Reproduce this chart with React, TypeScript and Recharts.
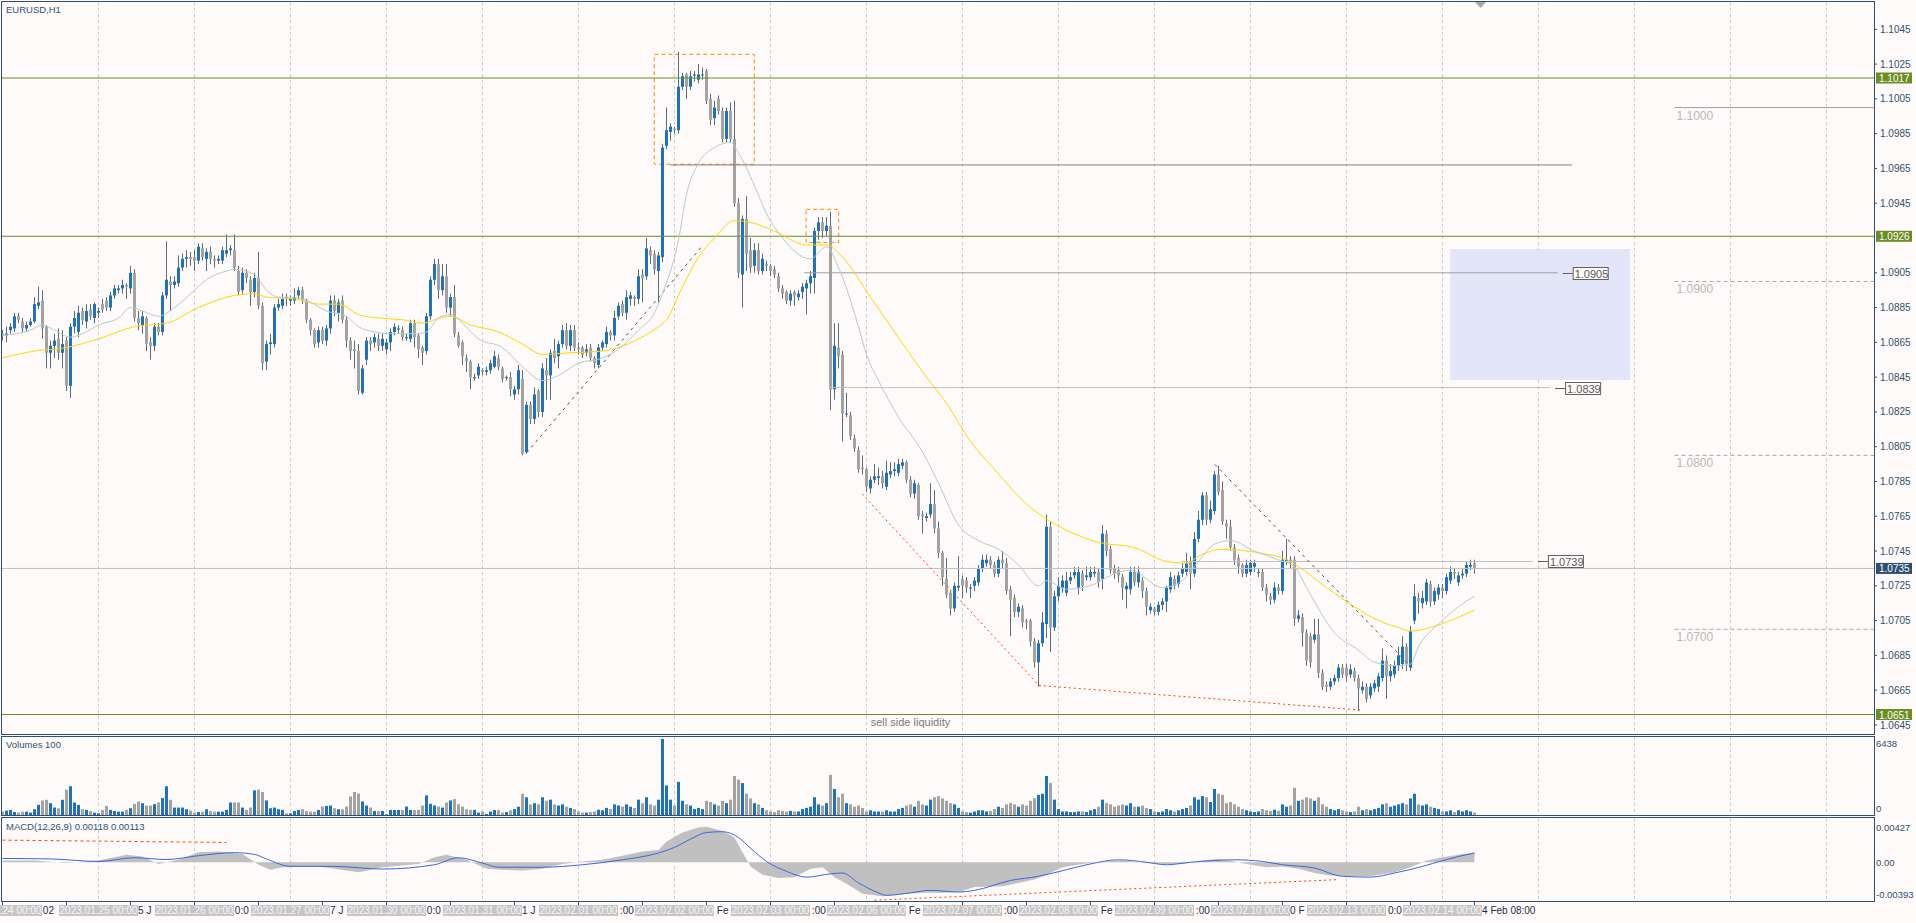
import React from "react"
import { ComposedChart, Bar, Line, Area, XAxis, YAxis, ReferenceLine, ReferenceArea, ReferenceDot, CartesianGrid } from "recharts"

const FONT = "'Liberation Sans', Arial, sans-serif"
const BG = "#fdfaf9"
const BORDER = "#2f4f6f"
const BULL = "#1e71bf"
const BEAR = "#a3a3a3"
const WICK = "#5a6b7c"
const OLIVE = "#6b8e23"

// EURUSD H1 bars, prices in pips (10870 = 1.0870), bar 0 = 2023.01.24 00:00
const openPips = [
    10870, 10869, 10872, 10873, 10880, 10877, 10873, 10875, 10877, 10886, 10889, 10874,
    10859, 10863, 10867, 10859, 10866, 10840, 10874, 10871, 10883, 10877, 10884, 10879,
    10882, 10887, 10889, 10885, 10892, 10895, 10896, 10898, 10896, 10905, 10879, 10875,
    10879, 10865, 10863, 10874, 10871, 10892, 10900, 10898, 10899, 10908, 10913, 10914,
    10914, 10912, 10919, 10913, 10917, 10913, 10912, 10912, 10916, 10918, 10918, 10906,
    10895, 10905, 10901, 10894, 10902, 10886, 10854, 10864, 10864, 10885, 10886, 10891,
    10889, 10889, 10892, 10895, 10889, 10878, 10872, 10865, 10872, 10866, 10873, 10889,
    10882, 10889, 10878, 10866, 10861, 10860, 10836, 10855, 10866, 10865, 10867, 10863,
    10861, 10865, 10871, 10873, 10872, 10868, 10867, 10876, 10869, 10862, 10860, 10880,
    10901, 10910, 10895, 10903, 10885, 10891, 10869, 10865, 10856, 10854, 10845, 10846,
    10849, 10848, 10849, 10851, 10856, 10850, 10845, 10845, 10835, 10838, 10844, 10802,
    10829, 10821, 10837, 10825, 10849, 10846, 10860, 10857, 10864, 10872, 10863, 10872,
    10862, 10862, 10859, 10862, 10856, 10852, 10862, 10864, 10871, 10869, 10880, 10887,
    10882, 10890, 10891, 10890, 10904, 10903, 10918, 10916, 10906, 10914, 10978, 10986,
    10988, 10987, 11012, 11019, 11012, 11019, 11016, 11019, 11021, 11005, 10994, 11005,
    10998, 10982, 10998, 10982, 10945, 10904, 10936, 10918, 10909, 10918, 10906, 10910,
    10909, 10907, 10903, 10896, 10894, 10889, 10894, 10891, 10894, 10896, 10899, 10902,
    10929, 10934, 10929, 10932, 10838, 10862, 10858, 10824, 10823, 10810, 10803, 10793,
    10792, 10781, 10786, 10787, 10788, 10782, 10789, 10791, 10790, 10794, 10796, 10786,
    10778, 10783, 10766, 10764, 10766, 10772, 10758, 10744, 10729, 10721, 10712, 10724,
    10729, 10728, 10724, 10725, 10727, 10735, 10738, 10740, 10737, 10732, 10740, 10738,
    10723, 10718, 10710, 10712, 10705, 10705, 10693, 10681, 10692, 10703, 10759, 10701,
    10719, 10724, 10721, 10728, 10731, 10724, 10732, 10730, 10730, 10732, 10733, 10729,
    10755, 10746, 10735, 10734, 10730, 10723, 10723, 10733, 10727, 10728, 10722, 10711,
    10712, 10710, 10714, 10716, 10723, 10729, 10726, 10732, 10733, 10739, 10732, 10752,
    10763, 10777, 10763, 10768, 10789, 10780, 10761, 10759, 10747, 10741, 10737, 10732,
    10733, 10736, 10733, 10733, 10724, 10719, 10717, 10724, 10722, 10739, 10740, 10740,
    10706, 10707, 10698, 10696, 10694, 10697, 10675, 10668, 10667, 10670, 10672, 10678,
    10678, 10674, 10676, 10672, 10665, 10667, 10662, 10666, 10667, 10672, 10682, 10673,
    10674, 10679, 10680, 10690, 10678, 10705, 10718, 10715, 10716, 10726, 10716, 10720,
    10724, 10722, 10728, 10733, 10727, 10731, 10732, 10736, 10738,
]

const closePips = [
    10869, 10870, 10874, 10880, 10878, 10873, 10875, 10877, 10887, 10888, 10873, 10859,
    10863, 10866, 10859, 10864, 10840, 10874, 10879, 10882, 10878, 10883, 10880, 10887,
    10883, 10884, 10885, 10892, 10896, 10896, 10898, 10897, 10905, 10879, 10876, 10880,
    10864, 10863, 10874, 10871, 10892, 10901, 10898, 10900, 10908, 10913, 10914, 10913,
    10912, 10920, 10914, 10917, 10913, 10912, 10913, 10918, 10918, 10919, 10908, 10894,
    10905, 10902, 10894, 10902, 10886, 10853, 10864, 10865, 10885, 10887, 10890, 10890,
    10890, 10891, 10895, 10889, 10878, 10872, 10864, 10872, 10866, 10873, 10889, 10883,
    10888, 10878, 10866, 10860, 10860, 10837, 10850, 10866, 10864, 10868, 10863, 10867,
    10865, 10871, 10874, 10873, 10868, 10868, 10876, 10868, 10861, 10859, 10880, 10901,
    10910, 10895, 10903, 10885, 10891, 10870, 10863, 10857, 10854, 10845, 10845, 10851,
    10848, 10849, 10853, 10857, 10851, 10844, 10845, 10838, 10838, 10849, 10801, 10829,
    10821, 10835, 10825, 10850, 10846, 10859, 10856, 10864, 10872, 10863, 10872, 10862,
    10861, 10858, 10861, 10856, 10853, 10862, 10865, 10871, 10869, 10879, 10886, 10882,
    10891, 10892, 10890, 10903, 10902, 10919, 10915, 10907, 10915, 10977, 10987, 10989,
    10987, 11012, 11018, 11012, 11018, 11019, 11019, 11019, 11004, 10993, 11000, 10998,
    10982, 10998, 10982, 10945, 10905, 10936, 10916, 10908, 10918, 10906, 10913, 10909,
    10906, 10904, 10896, 10893, 10889, 10893, 10892, 10893, 10897, 10899, 10903, 10929,
    10934, 10929, 10932, 10838, 10863, 10857, 10824, 10824, 10811, 10804, 10792, 10792,
    10782, 10786, 10788, 10788, 10784, 10790, 10791, 10792, 10795, 10796, 10786, 10778,
    10784, 10765, 10765, 10765, 10772, 10758, 10744, 10730, 10720, 10712, 10725, 10725,
    10725, 10724, 10724, 10728, 10735, 10740, 10740, 10737, 10732, 10740, 10738, 10722,
    10717, 10710, 10713, 10704, 10704, 10693, 10681, 10692, 10704, 10759, 10701, 10719,
    10725, 10728, 10728, 10730, 10733, 10733, 10725, 10731, 10733, 10733, 10727, 10755,
    10745, 10734, 10732, 10731, 10724, 10725, 10733, 10727, 10733, 10722, 10713, 10713,
    10710, 10714, 10716, 10724, 10730, 10725, 10731, 10735, 10738, 10732, 10752, 10763,
    10777, 10763, 10769, 10789, 10779, 10762, 10759, 10747, 10740, 10736, 10732, 10737,
    10738, 10738, 10733, 10724, 10720, 10717, 10724, 10722, 10740, 10740, 10738, 10706,
    10708, 10698, 10682, 10681, 10697, 10675, 10667, 10667, 10670, 10672, 10678, 10674,
    10673, 10677, 10672, 10666, 10667, 10660, 10667, 10669, 10673, 10682, 10673, 10676,
    10679, 10685, 10690, 10680, 10699, 10719, 10716, 10718, 10727, 10716, 10722, 10724,
    10722, 10730, 10733, 10732, 10731, 10732, 10737, 10737, 10735,
]

const highPips = [
    10872, 10874, 10876, 10882, 10882, 10879, 10877, 10879, 10891, 10897, 10895, 10875,
    10866, 10870, 10873, 10872, 10868, 10876, 10883, 10886, 10885, 10887, 10887, 10888,
    10885, 10890, 10891, 10894, 10898, 10898, 10901, 10899, 10909, 10907, 10883, 10883,
    10880, 10868, 10876, 10876, 10894, 10923, 10903, 10903, 10915, 10916, 10918, 10917,
    10918, 10922, 10922, 10919, 10920, 10915, 10915, 10920, 10927, 10921, 10927, 10909,
    10908, 10907, 10903, 10905, 10917, 10888, 10866, 10870, 10887, 10890, 10893, 10893,
    10892, 10896, 10897, 10897, 10890, 10879, 10873, 10874, 10874, 10875, 10892, 10892,
    10890, 10892, 10880, 10868, 10866, 10864, 10852, 10868, 10868, 10870, 10870, 10870,
    10867, 10873, 10876, 10875, 10874, 10870, 10878, 10878, 10870, 10863, 10882, 10903,
    10913, 10913, 10910, 10910, 10893, 10898, 10871, 10866, 10858, 10855, 10847, 10853,
    10850, 10851, 10855, 10860, 10858, 10851, 10846, 10848, 10840, 10852, 10849, 10831,
    10831, 10839, 10838, 10853, 10856, 10861, 10867, 10866, 10875, 10876, 10875, 10875,
    10865, 10863, 10864, 10864, 10857, 10864, 10866, 10874, 10872, 10883, 10888, 10889,
    10895, 10894, 10892, 10907, 10907, 10925, 10920, 10918, 10917, 10979, 11000, 10991,
    10989, 11032, 11020, 11020, 11021, 11021, 11025, 11023, 11022, 11008, 11004, 11007,
    11000, 11000, 11003, 11004, 10948, 10938, 10949, 10925, 10922, 10922, 10916, 10912,
    10910, 10909, 10905, 10898, 10895, 10895, 10895, 10895, 10899, 10901, 10906, 10931,
    10937, 10937, 10937, 10940, 10876, 10876, 10860, 10836, 10825, 10812, 10805, 10800,
    10793, 10788, 10795, 10793, 10791, 10797, 10796, 10796, 10798, 10798, 10797, 10788,
    10786, 10784, 10768, 10767, 10784, 10780, 10762, 10745, 10741, 10722, 10727, 10742,
    10731, 10730, 10726, 10730, 10737, 10743, 10743, 10742, 10739, 10742, 10745, 10741,
    10725, 10720, 10715, 10714, 10706, 10706, 10695, 10694, 10710, 10766, 10762, 10722,
    10730, 10731, 10733, 10733, 10736, 10736, 10734, 10736, 10736, 10736, 10735, 10760,
    10757, 10748, 10737, 10736, 10732, 10727, 10736, 10736, 10736, 10730, 10724, 10715,
    10713, 10716, 10718, 10725, 10733, 10731, 10733, 10738, 10744, 10742, 10756, 10768,
    10779, 10779, 10774, 10791, 10794, 10785, 10763, 10763, 10749, 10743, 10738, 10740,
    10740, 10740, 10735, 10735, 10726, 10721, 10727, 10726, 10745, 10752, 10742, 10742,
    10711, 10709, 10700, 10698, 10706, 10706, 10677, 10670, 10672, 10674, 10680, 10680,
    10680, 10680, 10678, 10674, 10670, 10669, 10669, 10671, 10675, 10689, 10685, 10680,
    10682, 10690, 10696, 10692, 10702, 10726, 10721, 10722, 10729, 10728, 10724, 10726,
    10726, 10732, 10736, 10735, 10733, 10735, 10739, 10740, 10740,
]

const lowPips = [
    10866, 10865, 10870, 10871, 10876, 10871, 10871, 10874, 10876, 10884, 10867, 10850,
    10850, 10856, 10855, 10850, 10837, 10833, 10870, 10868, 10875, 10873, 10878, 10876,
    10879, 10882, 10883, 10883, 10890, 10893, 10893, 10890, 10893, 10877, 10872, 10870,
    10860, 10855, 10860, 10869, 10869, 10890, 10883, 10896, 10897, 10906, 10908, 10909,
    10906, 10910, 10912, 10906, 10910, 10908, 10910, 10910, 10914, 10915, 10906, 10892,
    10893, 10899, 10886, 10891, 10884, 10849, 10849, 10858, 10862, 10883, 10884, 10886,
    10886, 10887, 10890, 10887, 10876, 10869, 10862, 10862, 10864, 10863, 10870, 10880,
    10877, 10876, 10862, 10855, 10850, 10835, 10835, 10852, 10860, 10862, 10860, 10860,
    10858, 10860, 10869, 10870, 10866, 10866, 10865, 10862, 10856, 10852, 10858, 10878,
    10898, 10890, 10892, 10882, 10880, 10868, 10862, 10852, 10848, 10838, 10843, 10844,
    10846, 10846, 10847, 10850, 10849, 10842, 10843, 10834, 10832, 10835, 10800, 10801,
    10818, 10818, 10822, 10822, 10832, 10832, 10853, 10850, 10862, 10861, 10860, 10860,
    10858, 10856, 10857, 10854, 10850, 10850, 10860, 10862, 10866, 10866, 10878, 10880,
    10878, 10886, 10886, 10887, 10888, 10901, 10910, 10904, 10888, 10911, 10976, 10981,
    10985, 10985, 11010, 11005, 11010, 11015, 11014, 11016, 11002, 10990, 10990, 10996,
    10980, 10980, 10980, 10943, 10902, 10885, 10906, 10905, 10905, 10904, 10904, 10906,
    10903, 10902, 10894, 10890, 10887, 10886, 10886, 10889, 10890, 10881, 10893, 10893,
    10924, 10925, 10926, 10826, 10832, 10850, 10808, 10822, 10809, 10802, 10790, 10789,
    10779, 10778, 10784, 10783, 10781, 10780, 10787, 10788, 10788, 10792, 10784, 10776,
    10775, 10763, 10755, 10762, 10764, 10755, 10741, 10725, 10718, 10708, 10710, 10722,
    10718, 10721, 10718, 10722, 10725, 10733, 10736, 10735, 10730, 10730, 10735, 10720,
    10696, 10707, 10707, 10701, 10700, 10690, 10678, 10667, 10690, 10695, 10687, 10699,
    10716, 10721, 10719, 10726, 10729, 10720, 10722, 10728, 10728, 10730, 10724, 10723,
    10742, 10732, 10729, 10727, 10717, 10712, 10720, 10725, 10724, 10718, 10708, 10709,
    10708, 10708, 10711, 10710, 10721, 10723, 10724, 10730, 10731, 10723, 10730, 10750,
    10760, 10760, 10761, 10766, 10777, 10760, 10752, 10745, 10737, 10732, 10730, 10730,
    10731, 10733, 10730, 10722, 10716, 10714, 10715, 10720, 10720, 10737, 10735, 10702,
    10704, 10690, 10679, 10678, 10692, 10672, 10665, 10664, 10665, 10668, 10670, 10672,
    10670, 10672, 10670, 10653, 10663, 10658, 10660, 10664, 10664, 10670, 10660, 10670,
    10672, 10676, 10677, 10676, 10676, 10703, 10709, 10712, 10714, 10713, 10714, 10717,
    10718, 10720, 10726, 10729, 10725, 10729, 10730, 10734, 10732,
]

// tick volume per bar
const volumes = [
    300, 372, 429, 257, 200, 286, 286, 200, 486, 858, 1230, 1287,
    1001, 629, 572, 1287, 2145, 2431, 1058, 858, 486, 429, 343, 200,
    143, 429, 772, 429, 343, 286, 286, 429, 572, 944, 1144, 1001,
    801, 801, 915, 1058, 1430, 2431, 1287, 629, 629, 629, 486, 372,
    200, 257, 286, 486, 343, 286, 286, 286, 429, 1058, 1058, 1058,
    629, 429, 629, 2088, 2145, 1945, 1230, 572, 629, 486, 429, 143,
    143, 343, 429, 486, 343, 286, 286, 429, 715, 772, 801, 572,
    486, 486, 715, 1573, 1945, 1802, 1144, 801, 629, 343, 343, 343,
    57, 429, 429, 429, 429, 715, 429, 429, 429, 801, 1659, 944,
    801, 715, 629, 1058, 1230, 1344, 915, 715, 486, 429, 429, 200,
    300, 86, 286, 429, 429, 200, 250, 400, 500, 700, 1800, 1500,
    900, 1000, 900, 1500, 1200, 1300, 900, 800, 900, 700, 600, 500,
    300, 200, 200, 250, 300, 450, 400, 600, 500, 900, 800, 700,
    900, 700, 600, 1300, 1000, 1500, 900, 800, 1300, 6438, 2500, 1300,
    800, 2800, 1200, 900, 800, 500, 600, 500, 1200, 1100, 900, 800,
    1200, 1000, 1300, 3300, 3000, 2700, 1800, 1400, 1000, 900, 600, 400,
    300, 250, 400, 350, 300, 350, 300, 300, 500, 600, 700, 1500,
    900, 800, 1000, 3400, 2200, 1500, 1800, 1000, 900, 700, 800, 600,
    300, 400, 300, 300, 300, 400, 300, 300, 500, 600, 800, 900,
    700, 1200, 900, 800, 1300, 1500, 1600, 1400, 1200, 1000, 900, 600,
    300, 250, 200, 300, 400, 400, 300, 350, 500, 700, 600, 900,
    1000, 900, 700, 900, 800, 1200, 1400, 1700, 1800, 3300, 2700, 1300,
    500, 300, 300, 250, 250, 300, 300, 250, 400, 500, 700, 1300,
    1000, 900, 700, 800, 900, 800, 1000, 700, 700, 800, 600, 500,
    300, 250, 300, 500, 400, 300, 400, 500, 600, 800, 1500, 1300,
    1600, 1500, 1100, 2200, 1800, 1700, 1000, 1100, 900, 700, 500, 400,
    300, 250, 300, 500, 400, 350, 450, 350, 900, 700, 800, 2300,
    1200, 1300, 1500, 1400, 1200, 1500, 900, 700, 500, 400, 500, 400,
    300, 250, 300, 700, 400, 500, 400, 500, 600, 900, 1000, 700,
    800, 900, 1000, 900, 1400, 1800, 900, 800, 900, 700, 600, 500,
    300, 300, 400, 250, 400, 300, 400, 300, 200,
]

// moving averages: [bar, pips]
const maFastPts = [
    [0, 10869], [7, 10872], [10, 10875], [13, 10872], [17, 10868], [20, 10870], [24, 10875], [29, 10879],
    [32, 10885], [35, 10883], [39, 10880], [43, 10885], [48, 10895], [51, 10901], [56, 10906], [58, 10907],
    [63, 10904], [66, 10895], [69, 10891], [73, 10891], [77, 10888], [81, 10883], [86, 10880], [89, 10874],
    [93, 10871], [97, 10870], [103, 10870], [106, 10871], [109, 10879], [112, 10881], [115, 10876], [119, 10867],
    [125, 10862], [130, 10851], [135, 10843], [139, 10846], [144, 10853], [150, 10856], [154, 10861], [159, 10872],
    [163, 10882], [165, 10893], [169, 10924], [171, 10950], [174, 10968], [178, 10977], [182, 10980], [184, 10974],
    [188, 10955], [191, 10939], [195, 10925], [202, 10913], [206, 10920], [209, 10908], [214, 10874], [216, 10858],
    [219, 10843], [224, 10822], [230, 10802], [234, 10784], [239, 10760], [244, 10751], [249, 10746], [254, 10737],
    [259, 10725], [261, 10728], [266, 10723], [273, 10726], [277, 10731], [282, 10734], [290, 10724], [295, 10728],
    [299, 10739], [303, 10749], [307, 10751], [313, 10745], [319, 10740], [323, 10736], [326, 10724], [333, 10698],
    [339, 10688], [343, 10681], [349, 10679], [352, 10680], [354, 10690], [359, 10703], [364, 10713], [368, 10719],
]

const maSlowPts = [
    [0, 10856], [8, 10860], [16, 10862], [24, 10867], [33, 10874], [41, 10876], [49, 10885], [58, 10892],
    [63, 10893], [66, 10891], [73, 10890], [79, 10887], [84, 10887], [89, 10881], [94, 10879], [100, 10878],
    [105, 10876], [108, 10878], [112, 10880], [117, 10875], [124, 10871], [130, 10864], [135, 10858], [142, 10859],
    [150, 10860], [154, 10862], [159, 10867], [164, 10874], [166, 10878], [170, 10897], [174, 10914], [178, 10925],
    [183, 10935], [187, 10934], [193, 10929], [201, 10921], [206, 10921], [210, 10914], [217, 10891], [223, 10871],
    [231, 10845], [236, 10830], [242, 10808], [248, 10792], [257, 10770], [260, 10765], [266, 10757], [274, 10750],
    [283, 10747], [291, 10739], [296, 10738], [299, 10742], [305, 10746], [314, 10744], [321, 10740], [324, 10736],
    [331, 10724], [338, 10713], [344, 10705], [349, 10701], [352, 10699], [357, 10701], [363, 10706], [368, 10711],
]

// MACD(12,26,9): main (histogram) and signal, read at [bar, value]
const macdPts = [
    [0, 0.0002], [8, 0.0002], [16, -0.0001], [24, 0.0002], [31, 0.0009], [35, 0.0007], [39, -0.0002], [44, 0.0003],
    [49, 0.0012], [54, 0.0013], [60, 0.001], [64, -0.0003], [67, -0.0009], [70, -0.0006], [79, -0.0005], [89, -0.0012],
    [95, -0.0006], [104, -0.0002], [108, 0.0006], [111, 0.0009], [116, 0.0003], [121, -0.0008], [125, -0.0009], [130, -0.001],
    [135, -0.0008], [140, -0.0002], [145, 0.0001], [150, 0.0003], [155, 0.0008], [160, 0.0013], [164, 0.0015], [166, 0.0025],
    [170, 0.0036], [174, 0.0042], [176, 0.0043], [180, 0.0038], [183, 0.003], [185, 0.0012], [187, -0.0005], [190, -0.0015],
    [194, -0.0019], [198, -0.0018], [202, -0.0008], [205, -0.0006], [208, -0.0018], [211, -0.0026], [215, -0.0038], [220, -0.0041],
    [226, -0.0038], [230, -0.0037], [235, -0.0037], [239, -0.0036], [243, -0.003], [250, -0.0029], [255, -0.0024], [258, -0.0021],
    [261, -0.0015], [265, -0.0006], [270, -0.0002], [275, 0.0001], [280, 0.0002], [286, -0.0001], [290, -0.0002], [295, -0.0002],
    [300, 0.0002], [304, 0.0004], [308, 0.0001], [312, -0.0003], [316, -0.0006], [320, -0.0005], [324, -0.0008], [328, -0.0013],
    [332, -0.0016], [336, -0.0017], [342, -0.0017], [348, -0.0012], [352, -0.0006], [356, 0.0002], [360, 0.0006], [364, 0.0009],
    [368, 0.00118],
]

const signalPts = [
    [0, 0.00046], [12, 0.0004], [24, 0.0001], [33, 0.00055], [41, 0.00033], [49, 0.0008], [58, 0.00116], [63, 0.00095],
    [66, 0.0004], [72, -0.00049], [83, -0.0005], [95, -0.00082], [108, -0.0003], [114, 0.00055], [120, -0.0001], [124, -0.0006],
    [135, -0.0006], [145, -0.0003], [155, 0.0003], [163, 0.001], [168, 0.0018], [172, 0.0028], [176, 0.0036], [180, 0.0037],
    [184, 0.003], [187, 0.0017], [191, 0.0001], [196, -0.0011], [201, -0.0018], [207, -0.0014], [210, -0.0013], [214, -0.0025],
    [219, -0.0037], [221, -0.004], [227, -0.0037], [232, -0.0034], [239, -0.0036], [243, -0.0034], [252, -0.0022], [259, -0.0017],
    [266, -0.0009], [272, -0.0002], [279, 0.0003], [286, 0], [291, -0.0003], [297, 0], [308, 0.0003], [315, 0.0001],
    [320, -0.0003], [328, -0.0007], [335, -0.0017], [342, -0.0018], [348, -0.0013], [355, -0.0005], [360, 0.0002], [364, 0.0007],
    [368, 0.00113],
]

const dayStarts = [0, 24, 48, 72, 96, 120, 144, 168, 192, 216, 240, 264, 288, 312, 336, 360]
const dayLabels = [
    "2023.01.24 00:00", "2023.01.25 00:00", "2023.01.26 00:00", "2023.01.27 00:00",
    "2023.01.30 00:00", "2023.01.31 00:00", "2023.02.01 00:00", "2023.02.02 00:00",
    "2023.02.03 00:00", "2023.02.06 00:00", "2023.02.07 00:00", "2023.02.08 00:00",
    "2023.02.09 00:00", "2023.02.10 00:00", "2023.02.13 00:00", "2023.02.14 00:00",
]
const hourTicks = [0, 16, 32, 48, 64, 80, 96, 112, 128, 144, 160, 176, 192, 208, 224, 240, 256, 272, 288, 304, 320, 336, 352, 368]
const hourLabels = [
    "24 Jan 2023", "24 Jan 16:00", "25 Jan 08:00", "26 Jan 00:00", "26 Jan 16:00", "27 Jan 08:00",
    "30 Jan 00:00", "30 Jan 16:00", "31 Jan 08:00", "1 Feb 00:00", "1 Feb 16:00", "2 Feb 08:00",
    "3 Feb 00:00", "3 Feb 16:00", "6 Feb 08:00", "7 Feb 00:00", "7 Feb 16:00", "8 Feb 08:00",
    "9 Feb 00:00", "9 Feb 16:00", "10 Feb 08:00", "13 Feb 00:00", "13 Feb 16:00", "14 Feb 08:00",
]
const gridDays = [24, 48, 72, 96, 120, 144, 168, 192, 216, 240, 264, 288, 312, 336, 360, 384, 408, 432, 456]
const priceTicks = [
    1.0645, 1.0665, 1.0685, 1.0705, 1.0725, 1.0745, 1.0765, 1.0785, 1.0805, 1.0825, 1.0845,
    1.0865, 1.0885, 1.0905, 1.0945, 1.0965, 1.0985, 1.1005, 1.1025, 1.1045,
]

const X_MIN = -0.375
const X_MAX = 467.875
const PLOT_W = 1873
const PX_PER_BAR = PLOT_W / (X_MAX - X_MIN)
const BOX_HALF = 39.5

const rows: any[] = openPips.map((o, i) => {
    const c = closePips[i]
    const h = Math.max(highPips[i], o, c)
    const l = Math.min(lowPips[i], o, c)
    return { i, open: o / 10000, close: c / 10000, hl: [l / 10000, h / 10000], vol: volumes[i], up: c >= o }
})
maFastPts.forEach(([k, v]) => (rows[k].maFast = v / 10000))
maSlowPts.forEach(([k, v]) => (rows[k].maSlow = v / 10000))
macdPts.forEach(([k, v]) => (rows[k].macd = v))
signalPts.forEach(([k, v]) => (rows[k].signal = v))

const timeTicks = [...hourTicks.map((k) => k + 0.0001), ...dayStarts]

let measureCtx: any = null
const measure = (s: string) => {
    if (!measureCtx) {
        measureCtx = document.createElement("canvas").getContext("2d")
        measureCtx.font = `10px ${FONT}`
    }
    return measureCtx.measureText(s).width
}

// parts of an hour label that are not hidden under the day boxes
const visibleRuns = (label: string, tickX: number, bar: number) => {
    const start = tickX + 2
    const centers = dayStarts.map((d) => tickX + (d - bar) * PX_PER_BAR)
    const runs: { x: number; s: string }[] = []
    let cur: { x: number; s: string } | null = null
    for (let i = 0; i < label.length; i++) {
        const a = start + measure(label.slice(0, i))
        const b = start + measure(label.slice(0, i + 1))
        const hidden = a < 1 || centers.some((c) => b > c - BOX_HALF && a < c + BOX_HALF)
        if (hidden) {
            cur = null
            continue
        }
        if (!cur) {
            cur = { x: a, s: "" }
            runs.push(cur)
        }
        cur.s += label[i]
    }
    return runs
        .map((r) => {
            const lead = r.s.length - r.s.trimStart().length
            return { x: r.x + measure(r.s.slice(0, lead)), s: r.s.trim() }
        })
        .filter((r) => r.s.length > 0)
}

const Candle = (props: any) => {
    const { x, y, width, height, payload } = props
    if (!payload || x == null || y == null) return null
    const cx = Math.round(x + width / 2 - 0.5) + 0.5
    const top = Math.min(y, y + height)
    const bot = Math.max(y, y + height)
    const [lo, hi] = payload.hl
    const span = hi - lo
    const toY = (v: number) => (span > 0 ? top + ((hi - v) / span) * (bot - top) : top)
    const yo = toY(payload.open)
    const yc = toY(payload.close)
    const bTop = Math.min(yo, yc)
    const bH = Math.max(1, Math.abs(yo - yc))
    return (
        <g>
            <line x1={cx} x2={cx} y1={top} y2={bot} stroke={WICK} strokeWidth={1} />
            <rect x={cx - 1.5} y={bTop} width={3} height={bH} fill={payload.up ? BULL : BEAR} />
        </g>
    )
}

const VolBar = (props: any) => {
    const { x, y, width, height, payload } = props
    if (!payload || x == null) return null
    const cx = Math.round(x + width / 2 - 0.5) + 0.5
    return <rect x={cx - 1.5} y={y} width={3} height={Math.max(0, height)} fill={payload.up ? BULL : BEAR} />
}

const AxisTag = ({ viewBox, text, fill }: any) => {
    if (!viewBox) return null
    const x = viewBox.x + viewBox.width + 2
    const y = viewBox.y
    return (
        <g>
            <rect x={x} y={y - 5.5} width={36} height={11} fill={fill} />
            <text x={x + 3} y={y + 4} fill="#ffffff" fontSize={10} fontFamily={FONT}>{text}</text>
        </g>
    )
}

const BoxTag = ({ viewBox, text }: any) => {
    if (!viewBox) return null
    const x = viewBox.x + viewBox.width
    const y = Math.round(viewBox.y) + 0.5
    return (
        <g>
            <line x1={x + 5} x2={x + 15} y1={y} y2={y} stroke="#606060" />
            <rect x={x + 15.5} y={y - 6} width={35} height={12} fill={BG} stroke="#606060" />
            <text x={x + 17} y={y + 4.5} fill="#5a5a5a" fontSize={11} fontFamily={FONT}>{text}</text>
        </g>
    )
}

const LevelText = ({ viewBox, text }: any) => {
    if (!viewBox) return null
    return (
        <text x={viewBox.x + 2} y={viewBox.y + 12} fill="#b8b8b8" fontSize={12} fontFamily={FONT}>{text}</text>
    )
}

const TimeTick = (props: any) => {
    const { x, y, payload } = props
    const v = payload.value
    if (Number.isInteger(v)) {
        const label = dayLabels[dayStarts.indexOf(v)]
        return (
            <g>
                <rect x={x - BOX_HALF} y={y + 4} width={BOX_HALF * 2} height={11} fill="#c6c6c6" />
                <text x={x} y={y + 13} textAnchor="middle" fill="#f6f6f6" fontSize={10} fontFamily={FONT}>{label}</text>
            </g>
        )
    }
    const bar = Math.round(v)
    const label = hourLabels[hourTicks.indexOf(bar)]
    return (
        <g>
            <line x1={x} x2={x} y1={y} y2={y + 4} stroke={BORDER} />
            {visibleRuns(label, x, bar).map((r, j) => (
                <text key={j} x={r.x} y={y + 13} fill="#1c2e42" fontSize={10} fontFamily={FONT}>{r.s}</text>
            ))}
        </g>
    )
}

const SideTick = (props: any) => {
    const { x, y, payload, dyTop, dyZero, fmt } = props
    const v = payload.value
    const dy = v === 0 && dyZero != null ? dyZero : v > 0 ? dyTop : 3.5
    return (
        <text x={x} y={y + dy} fill="#34506e" fontSize={9.5} fontFamily={FONT}>{fmt ? fmt(v) : v}</text>
    )
}

const Frame = ({ top, height }: { top: number; height: number }) => (
    <div
        style={{
            position: "absolute",
            left: 1,
            top,
            width: 1874,
            height,
            boxSizing: "border-box",
            border: `1px solid ${BORDER}`,
            pointerEvents: "none",
        }}
    />
)

const paneText = { position: "absolute" as const, left: 6, fontSize: 9.5, color: "#34506e", fontFamily: FONT }

export default function App() {
    const axisTick = { fill: "#34506e", fontSize: 10, fontFamily: FONT }
    return (
        <div style={{ position: "relative", width: 1916, height: 923, background: BG, overflow: "hidden", fontFamily: FONT }}>
            <style>{`body{margin:0;background:${BG}}`}</style>

            <ComposedChart width={1916} height={736} data={rows} margin={{ top: 2, right: 0, bottom: 2, left: 1 }} style={{ position: "absolute", left: 0, top: 0 }}>
                <CartesianGrid horizontal={false} verticalValues={gridDays} stroke="#cccccc" strokeDasharray="3 3" />
                <XAxis type="number" dataKey="i" domain={[X_MIN, X_MAX]} allowDataOverflow hide />
                <YAxis orientation="right" type="number" domain={[1.06398, 1.10607]} allowDataOverflow ticks={priceTicks} interval={0}
                    width={42} axisLine={false} tickSize={3} tickMargin={3} tickLine={{ stroke: BORDER }} tick={axisTick}
                    tickFormatter={(v: number) => v.toFixed(4)} />
                <ReferenceArea x1={361.9} x2={406.9} y1={1.08433} y2={1.09187} fill="#e3e6f8" fillOpacity={1} stroke="none" />
                <ReferenceLine y={1.1017} stroke={OLIVE} label={<AxisTag text="1.1017" fill={OLIVE} />} />
                <ReferenceLine y={1.0926} stroke={OLIVE} label={<AxisTag text="1.0926" fill={OLIVE} />} />
                <ReferenceLine y={1.0651} stroke={OLIVE} label={<AxisTag text="1.0651" fill={OLIVE} />} />
                <ReferenceLine y={1.0735} stroke="#c0c0c0" label={<AxisTag text="1.0735" fill={BORDER} />} />
                <ReferenceLine segment={[{ x: 166.9, y: 1.0967 }, { x: 392.4, y: 1.0967 }]} stroke="#7f7f7f" />
                <ReferenceLine segment={[{ x: 200.4, y: 1.0905 }, { x: 388.8, y: 1.0905 }]} stroke="#a0a0a0" label={<BoxTag text="1.0905" />} />
                <ReferenceLine segment={[{ x: 206.6, y: 1.0839 }, { x: 386.9, y: 1.0839 }]} stroke="#c0c0c0" label={<BoxTag text="1.0839" />} />
                <ReferenceLine segment={[{ x: 294.8, y: 1.0739 }, { x: 382.6, y: 1.0739 }]} stroke="#c0c0c0" label={<BoxTag text="1.0739" />} />
                <ReferenceLine segment={[{ x: 418, y: 1.1 }, { x: X_MAX, y: 1.1 }]} stroke="#a0a0a0" label={<LevelText text="1.1000" />} />
                <ReferenceLine segment={[{ x: 418, y: 1.09 }, { x: X_MAX, y: 1.09 }]} stroke="#a8a8a8" strokeDasharray="4 3" label={<LevelText text="1.0900" />} />
                <ReferenceLine segment={[{ x: 418, y: 1.08 }, { x: X_MAX, y: 1.08 }]} stroke="#a8a8a8" strokeDasharray="4 3" label={<LevelText text="1.0800" />} />
                <ReferenceLine segment={[{ x: 418, y: 1.07 }, { x: X_MAX, y: 1.07 }]} stroke="#a8a8a8" strokeDasharray="4 3" label={<LevelText text="1.0700" />} />
                <ReferenceLine segment={[{ x: 131.05, y: 1.08015 }, { x: 174.8, y: 1.092 }]} stroke="#555555" strokeDasharray="3 4" />
                <ReferenceLine segment={[{ x: 303.1, y: 1.07948 }, { x: 353.1, y: 1.06762 }]} stroke="#555555" strokeDasharray="3 4" />
                <ReferenceLine segment={[{ x: 214.9, y: 1.07778 }, { x: 259.1, y: 1.06677 }]} stroke="#ff4500" strokeDasharray="2 3" />
                <ReferenceLine segment={[{ x: 259.1, y: 1.06677 }, { x: 339.4, y: 1.06536 }]} stroke="#ff4500" strokeDasharray="2 3" />
                <ReferenceArea x1={162.95} x2={187.95} y1={1.09674} y2={1.10306} fill="none" stroke="#ff8c00" strokeDasharray="4 3" />
                <ReferenceArea x1={200.9} x2={209.05} y1={1.09225} y2={1.09415} fill="none" stroke="#ff8c00" strokeDasharray="4 3" />
                <ReferenceDot x={227} y={1.06467} r={1} fill="none" stroke="none"
                    label={{ value: "sell side liquidity", position: "center", fill: "#7a7a7a", fontSize: 11, fontFamily: FONT }} />
                <Line dataKey="maSlow" type="monotone" connectNulls stroke="#ffd700" strokeWidth={1} dot={false} isAnimationActive={false} />
                <Line dataKey="maFast" type="monotone" connectNulls stroke="#b4cbcb" strokeWidth={1} dot={false} isAnimationActive={false} />
                <Bar dataKey="hl" barSize={4} shape={(p: any) => <Candle {...p} />} isAnimationActive={false} />
            </ComposedChart>

            <ComposedChart width={1916} height={78} data={rows} margin={{ top: 0, right: 0, bottom: 0, left: 1 }} style={{ position: "absolute", left: 0, top: 737 }}>
                <CartesianGrid horizontal={false} verticalValues={gridDays} stroke="#cccccc" strokeDasharray="3 3" />
                <XAxis type="number" dataKey="i" domain={[X_MIN, X_MAX]} allowDataOverflow hide />
                <YAxis orientation="right" type="number" domain={[0, 6600]} allowDataOverflow ticks={[0, 6438]} interval={0}
                    width={42} axisLine={false} tickLine={false} tickSize={0} tickMargin={2}
                    tick={<SideTick dyTop={8} dyZero={-3} />} />
                <Bar dataKey="vol" barSize={4} shape={(p: any) => <VolBar {...p} />} isAnimationActive={false} />
            </ComposedChart>

            <ComposedChart width={1916} height={105} data={rows} margin={{ top: 0, right: 0, bottom: 0, left: 1 }} style={{ position: "absolute", left: 0, top: 818 }}>
                <CartesianGrid horizontal={false} verticalValues={gridDays} stroke="#cccccc" strokeDasharray="3 3" />
                <XAxis type="number" dataKey="i" domain={[X_MIN, X_MAX]} allowDataOverflow ticks={timeTicks} interval={0}
                    height={22} axisLine={false} tickLine={false} tickSize={0} tickMargin={0} tick={<TimeTick />} />
                <YAxis orientation="right" type="number" domain={[-0.00469, 0.00536]} allowDataOverflow ticks={[0.00427, 0, -0.00393]} interval={0}
                    width={42} axisLine={false} tickLine={false} tickSize={0} tickMargin={2}
                    tick={<SideTick dyTop={3.5} dyZero={3.5} fmt={(v: number) => (v === 0 ? "0.00" : v.toFixed(5))} />} />
                <Area dataKey="macd" type="linear" connectNulls baseValue={0} fill="#c0c0c0" fillOpacity={1} stroke="none" isAnimationActive={false} />
                <Line dataKey="signal" type="monotone" connectNulls stroke="#3a66e0" strokeWidth={1} dot={false} isAnimationActive={false} />
                <ReferenceLine segment={[{ x: 0, y: 0.00268 }, { x: 56, y: 0.0024 }]} stroke="#ff4500" strokeDasharray="3 3" />
                <ReferenceLine segment={[{ x: 218, y: -0.0046 }, { x: 334, y: -0.0021 }]} stroke="#ff4500" strokeDasharray="2 3" />
            </ComposedChart>

            <Frame top={1} height={734} />
            <Frame top={736} height={80} />
            <Frame top={817} height={85} />

            <svg style={{ position: "absolute", left: 0, top: 0, pointerEvents: "none" }} width={1916} height={12}>
                <polygon points="1475,2 1486,2 1480.5,8" fill="#a9a9a9" />
            </svg>

            <div style={{ ...paneText, top: 4 }}>EURUSD,H1</div>
            <div style={{ ...paneText, top: 739 }}>Volumes 100</div>
            <div style={{ ...paneText, top: 821 }}>MACD(12,26,9) 0.00118 0.00113</div>
        </div>
    )
}
